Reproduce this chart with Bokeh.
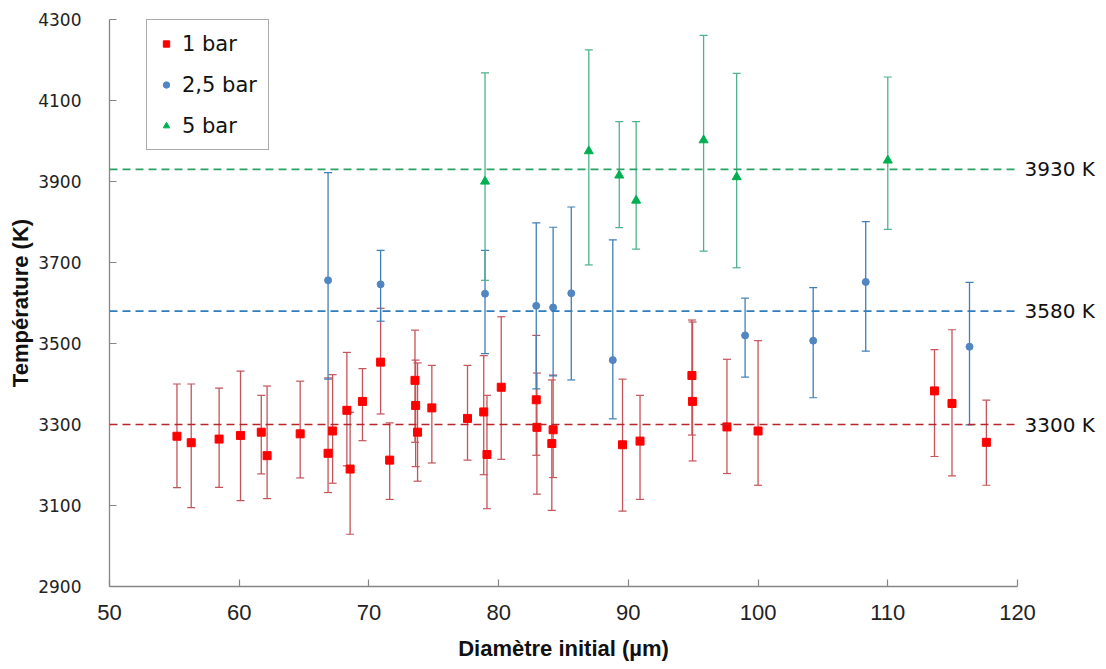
from bokeh.plotting import figure
from bokeh.models import (ColumnDataSource, Whisker, TeeHead, Span, LinearAxis,
                          FixedTicker, Legend, LegendItem, Range1d)
from bokeh.embed import file_html
from bokeh.resources import INLINE

# ---------------- data ----------------
red_x = [55.2, 56.3, 58.45, 60.1, 61.7, 62.15, 64.7, 66.85, 67.2, 68.3, 68.55, 69.5,
         70.9, 71.6, 73.55, 73.6, 73.75, 74.85, 77.6, 78.85, 79.1, 80.2, 82.9, 82.95,
         84.2, 84.1, 89.55, 90.9, 94.9, 94.95, 97.6, 100.0, 113.6, 114.95, 117.6]
red_t = [3271, 3255, 3264, 3273, 3281, 3223, 3277, 3229, 3284, 3335, 3190, 3357,
         3454, 3212, 3409, 3347, 3281, 3341, 3315, 3331, 3226, 3392, 3361, 3293,
         3287, 3253, 3250, 3259, 3421, 3357, 3294, 3284, 3383, 3352, 3256]
red_hi = [3400, 3400, 3390, 3432, 3372, 3395, 3407, 3415, 3423, 3478, 3330, 3438,
          3587, 3304, 3533, 3459, 3452, 3446, 3446, 3470, 3372, 3566, 3520, 3427,
          3422, 3410, 3412, 3372, 3558, 3553, 3461, 3507, 3485, 3534, 3360]
red_lo = [3144, 3095, 3145, 3112, 3178, 3117, 3168, 3132, 3155, 3198, 3029, 3260,
          3326, 3115, 3256, 3196, 3160, 3205, 3212, 3176, 3092, 3214, 3224, 3128,
          3169, 3088, 3086, 3115, 3274, 3210, 3179, 3150, 3221, 3173, 3150]

blue_x = [66.85, 70.9, 78.95, 82.9, 84.2, 85.6, 88.8, 99.0, 104.25, 108.3, 116.3]
blue_t = [3656, 3646, 3623, 3593, 3589, 3624, 3459, 3520, 3507, 3652, 3492]
blue_hi = [3922, 3730, 3730, 3798, 3787, 3837, 3756, 3612, 3638, 3801, 3651]
blue_lo = [3412, 3555, 3475, 3388, 3420, 3410, 3314, 3417, 3366, 3481, 3299]

green_x = [78.95, 86.95, 89.3, 90.6, 95.8, 98.35, 110.0]
green_t = [3900, 3975, 3915, 3853, 4002, 3911, 3952]
green_hi = [4168, 4225, 4048, 4048, 4261, 4167, 4158]
green_lo = [3656, 3694, 3786, 3733, 3728, 3687, 3782]

series_names = ["1 bar", "2,5 bar", "5 bar"]
ref_levels = [3930, 3580, 3300]
ref_labels = ["3930 K", "3580 K", "3300 K"]
x_ticks = [50, 60, 70, 80, 90, 100, 110, 120]
y_ticks = [2900, 3100, 3300, 3500, 3700, 3900, 4100, 4300]
X_MIN, X_MAX = 50, 120
Y_MIN, Y_MAX = 2900, 4300

# ---------------- styling ----------------
marker_colors = ["#FF0000", "#5186C2", "#00B050"]
bar_colors = ["#C4545A", "#3F7FB8", "#4DB38A"]
ref_colors = ["#2AA363", "#2F7DC0", "#B8262B"]
markers = ["square", "circle", "triangle"]
marker_sizes = [8, 7, 9]

p = figure(width=1097, height=663, x_range=Range1d(X_MIN, X_MAX), y_range=Range1d(Y_MIN, Y_MAX),
           output_backend="svg", toolbar_location=None,
           min_border_left=109, min_border_right=79, min_border_top=19, min_border_bottom=75)
p.xgrid.visible = False
p.ygrid.visible = False
p.outline_line_color = None
p.background_fill_color = "white"

for lvl, col in zip(ref_levels, ref_colors):
    p.add_layout(Span(location=lvl, dimension="width", line_color=col,
                      line_width=1.6, line_dash="8 5"))

all_series = [(red_x, red_t, red_hi, red_lo), (blue_x, blue_t, blue_hi, blue_lo),
              (green_x, green_t, green_hi, green_lo)]
legend_items = []
for i, (xs, ts, his, los) in enumerate(all_series):
    src = ColumnDataSource(dict(x=xs, t=ts, hi=his, lo=los))
    w = Whisker(source=src, base="x", upper="hi", lower="lo", dimension="height",
                line_color=bar_colors[i], line_width=1.3,
                upper_head=TeeHead(size=8, line_color=bar_colors[i], line_width=1.2),
                lower_head=TeeHead(size=8, line_color=bar_colors[i], line_width=1.2))
    p.add_layout(w)
    r = p.scatter("x", "t", source=src, marker=markers[i], size=marker_sizes[i],
                  fill_color=marker_colors[i], line_color=marker_colors[i])
    legend_items.append(LegendItem(label=series_names[i], renderers=[r]))

# axes
axis_col = "#868686"
for ax in [p.xaxis[0], p.yaxis[0]]:
    ax.axis_line_color = axis_col
    ax.axis_line_width = 1.3
    ax.major_tick_line_color = axis_col
    ax.major_tick_line_width = 1.2
    ax.major_tick_in = 7
    ax.major_tick_out = 0
    ax.minor_tick_line_color = None
    ax.minor_tick_in = 0
    ax.minor_tick_out = 0
    ax.major_label_text_color = "#222222"
    ax.axis_label_text_color = "#111111"
    ax.axis_label_text_font = "Liberation Sans"
    ax.axis_label_text_font_style = "bold"
    ax.axis_label_text_font_size = "22px"

p.xaxis.ticker = FixedTicker(ticks=x_ticks)
p.yaxis.ticker = FixedTicker(ticks=y_ticks)
p.xaxis.axis_label = "Diamètre initial (µm)"
p.yaxis.axis_label = "Température (K)"
p.xaxis.major_label_text_font = "Liberation Sans"
p.xaxis.major_label_text_font_size = "22px"
p.xaxis.major_label_standoff = 18
p.xaxis.axis_label_standoff = 13
p.yaxis.major_label_text_font = "DejaVu Sans"
p.yaxis.major_label_text_font_size = "17px"
p.yaxis.major_label_text_align = "right"
p.yaxis.major_label_standoff = 28
p.yaxis.axis_label_standoff = 2

# reference temperature labels on the right
right = LinearAxis(ticker=FixedTicker(ticks=ref_levels),
                   major_label_overrides={lvl: lab for lvl, lab in zip(ref_levels, ref_labels)})
right.axis_line_color = None
right.major_tick_line_color = None
right.minor_tick_line_color = None
right.major_tick_in = 0
right.major_tick_out = 0
right.minor_tick_in = 0
right.minor_tick_out = 0
right.major_label_standoff = 7
right.major_label_text_align = "left"
right.major_label_text_font = "DejaVu Sans"
right.major_label_text_font_size = "20px"
right.major_label_text_color = "#111111"
p.add_layout(right, "right")

legend = Legend(items=legend_items, location=(37, 436), margin=0,
                label_text_font="DejaVu Sans", label_text_font_size="21px",
                label_text_color="#111111",
                glyph_width=16, glyph_height=25, spacing=16, padding=11,
                label_standoff=8, label_height=25, label_width=75,
                border_line_color="#555555", border_line_width=1.2,
                background_fill_color="white", background_fill_alpha=1.0)
p.add_layout(legend)

open("out.html", "w").write(file_html(p, INLINE))
